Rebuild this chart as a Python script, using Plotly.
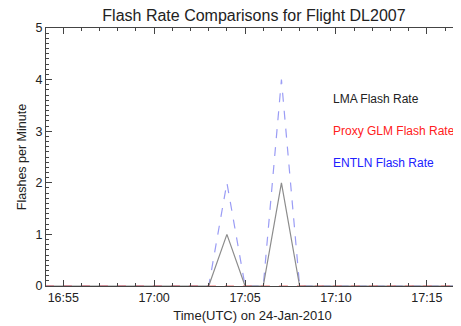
import plotly.graph_objects as go

times = ["2010-01-24 16:%02d:00" % m for m in range(53, 60)] + \
        ["2010-01-24 17:%02d:00" % m for m in range(0, 19)]
lma =   [0, 0, 0, 0, 0, 0, 0,  0, 0, 0, 0, 1, 0, 0, 2, 0, 0, 0, 0, 0, 0, 0, 0, 0, 0, 0]
entln = [0, 0, 0, 0, 0, 0, 0,  0, 0, 0, 0, 2, 0, 0, 4, 0, 0, 0, 0, 0, 0, 0, 0, 0, 0, 0]
glm =   [0] * len(times)

x_ticks = ["2010-01-24 16:55", "2010-01-24 17:00", "2010-01-24 17:05",
           "2010-01-24 17:10", "2010-01-24 17:15"]
x_tick_labels = ["16:55", "17:00", "17:05", "17:10", "17:15"]
y_ticks = [0, 1, 2, 3, 4, 5]

font = "Liberation Sans, Arial, sans-serif"

fig = go.Figure()
fig.add_trace(go.Scatter(x=times, y=entln, mode="lines",
                         line=dict(color="#9a9cf5", width=1.2, dash="dash"),
                         showlegend=False))
fig.add_trace(go.Scatter(x=times, y=lma, mode="lines",
                         line=dict(color="#8c8c8c", width=1.2),
                         showlegend=False))
fig.add_trace(go.Scatter(x=times, y=glm, mode="lines",
                         line=dict(color="#f07070", width=1.2, dash="dash"),
                         showlegend=False))

# page body has an 8px margin; figure sized to fill the remaining window
fig.update_layout(
    width=453, height=318,
    margin=dict(l=38, r=2, t=20, b=40),
    paper_bgcolor="white", plot_bgcolor="white",
    font=dict(family=font, size=12.5, color="#222"),
    title=dict(text="Flash Rate Comparisons for Flight DL2007", x=0.543, xanchor="center",
               y=0.994, yanchor="top", pad=dict(t=0, b=0),
               font=dict(size=16, color="#222")),
    xaxis=dict(
        range=["2010-01-24 16:54:03", "2010-01-24 17:16:46"],
        tickvals=x_ticks, ticktext=x_tick_labels,
        ticks="inside", ticklen=6, tickcolor="#444", tickwidth=1,
        minor=dict(dtick=60000, ticks="inside", ticklen=3, tickcolor="#444"),
        showline=True, linecolor="#444", linewidth=1, mirror="allticks",
        showgrid=False, zeroline=False,
        title=dict(text="Time(UTC) on 24-Jan-2010", standoff=6, font=dict(size=13)),
        tickfont=dict(size=12.5),
        automargin=False,
    ),
    yaxis=dict(
        range=[0, 5], tickvals=y_ticks,
        ticks="inside", ticklen=6, tickcolor="#444", tickwidth=1,
        minor=dict(dtick=0.1, ticks="inside", ticklen=3, tickcolor="#444"),
        showline=True, linecolor="#444", linewidth=1, mirror="allticks",
        showgrid=False, zeroline=False,
        title=dict(text="Flashes per Minute", standoff=6, font=dict(size=12.5)),
        tickfont=dict(size=12.5),
        automargin=False,
    ),
)

labels = ["LMA Flash Rate", "Proxy GLM Flash Rate", "ENTLN Flash Rate"]
label_colors = ["#222222", "#ff2020", "#2020ff"]
label_y = [3.62, 3.0, 2.38]
for t, c, yv in zip(labels, label_colors, label_y):
    fig.add_annotation(text=t, x=0.69, xref="paper", y=yv, yref="y",
                       xanchor="left", yanchor="middle", showarrow=False,
                       font=dict(size=12, color=c, family=font))

fig.write_html("out.html")
